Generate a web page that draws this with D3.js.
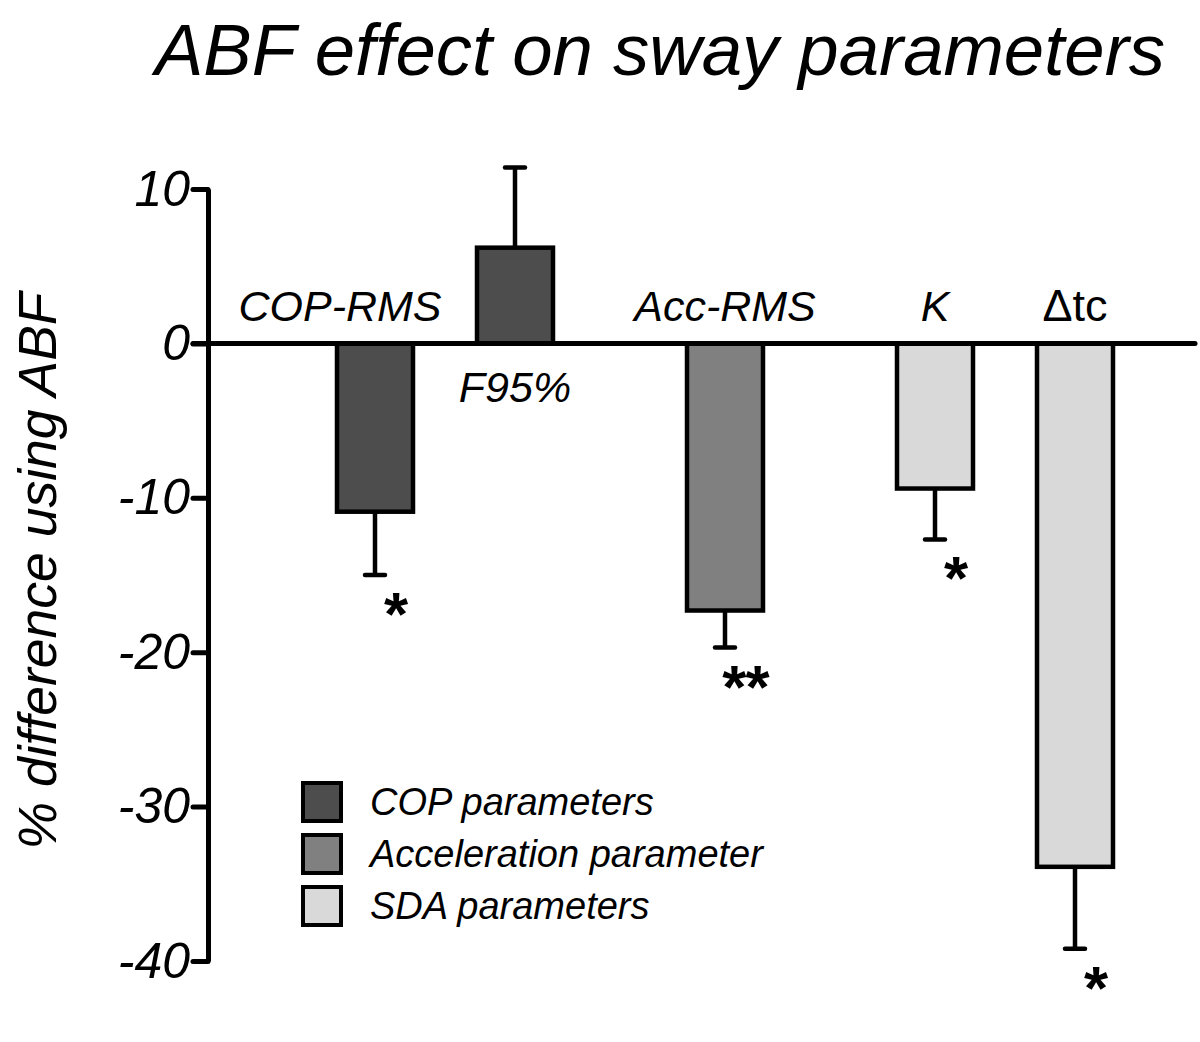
<!DOCTYPE html>
<html>
<head>
<meta charset="utf-8">
<script src="https://cdn.jsdelivr.net/npm/d3@7"></script>
<style>
  html, body { margin: 0; padding: 0; background: #fff; }
  svg { display: block; }
  text { font-family: "Liberation Sans", Arial, sans-serif; }
</style>
</head>
<body>
<svg id="chart" width="1200" height="1042"></svg>
<script>
// ---- data ----
const categories = ["COP-RMS", "F95%", "Acc-RMS", "K", "Δtc"];
const groups     = ["COP", "COP", "Acc", "SDA", "SDA"];
const values     = [-10.9, 6.2, -17.3, -9.4, -33.9];
const errors     = [4.1, 5.2, 2.4, 3.3, 5.3];
const stars      = ["*", "", "**", "*", "*"];
const yTicks     = [10, 0, -10, -20, -30, -40];
const legendGroups = ["COP", "Acc", "SDA"];
const legendLabels = ["COP parameters", "Acceleration parameter", "SDA parameters"];
const titleText  = "ABF effect on sway parameters";
const yTitle     = "% difference using ABF";

// ---- styles / layout ----
const fills = { COP: "#4d4d4d", Acc: "#808080", SDA: "#d9d9d9" };
const labelShift = { "COP-RMS": -35 };
const uprightLabels = { "Δtc": true };

const svg = d3.select("#chart");
svg.append("rect").attr("width", 1200).attr("height", 1042).attr("fill", "#fff");

const y = d3.scaleLinear().domain([-40, 10]).range([961, 189]);

// slot index: 2 per bar, plus 1 extra slot between groups
const slots = [];
let s = 0;
categories.forEach((c, i) => {
  if (i > 0) s += 2 + (groups[i] !== groups[i - 1] ? 1 : 0);
  slots.push(s);
});
const x = d3.scaleLinear().domain([0, d3.max(slots)]).range([375, 1075]);
const barW = 76;

const data = categories.map((c, i) => ({
  c, g: groups[i], v: values[i], e: errors[i], star: stars[i], cx: x(slots[i])
}));

// title
svg.append("text")
  .attr("x", 660).attr("y", 75)
  .attr("text-anchor", "middle")
  .attr("font-size", 72.5).attr("font-style", "italic")
  .text(titleText);

// y axis title
svg.append("text")
  .attr("transform", "translate(56,571) rotate(-90)")
  .attr("text-anchor", "middle")
  .attr("font-size", 53.5).attr("font-style", "italic")
  .text(yTitle);

// y axis
const axisX = 208;
const gAxis = svg.append("g")
  .attr("transform", `translate(${axisX},0)`)
  .call(d3.axisLeft(y).tickValues(yTicks).tickSize(15).tickSizeOuter(0).tickPadding(3)
        .tickFormat(d => String(d)));
gAxis.select(".domain").attr("stroke", "#000").attr("stroke-width", 5);
gAxis.selectAll(".tick line").attr("stroke", "#000").attr("stroke-width", 5).attr("stroke-linecap", "round");
gAxis.selectAll(".tick text")
  .attr("font-family", "Liberation Sans, Arial, sans-serif")
  .attr("font-size", 50).attr("font-style", "italic").attr("fill", "#000");

// bars
const gBars = svg.append("g");
gBars.selectAll("rect.bar").data(data).join("rect")
  .attr("class", "bar")
  .attr("x", d => d.cx - barW / 2)
  .attr("width", barW)
  .attr("y", d => y(Math.max(0, d.v)))
  .attr("height", d => Math.abs(y(d.v) - y(0)))
  .attr("fill", d => fills[d.g])
  .attr("stroke", "#000").attr("stroke-width", 4.5);

// error bars
const capW = 20;
const endVal = d => d.v >= 0 ? d.v + d.e : d.v - d.e;
gBars.selectAll("line.err").data(data).join("line")
  .attr("class", "err")
  .attr("x1", d => d.cx).attr("x2", d => d.cx)
  .attr("y1", d => y(d.v)).attr("y2", d => y(endVal(d)))
  .attr("stroke", "#000").attr("stroke-width", 4.5);
gBars.selectAll("line.cap").data(data).join("line")
  .attr("class", "cap")
  .attr("x1", d => d.cx - capW / 2).attr("x2", d => d.cx + capW / 2)
  .attr("y1", d => y(endVal(d))).attr("y2", d => y(endVal(d)))
  .attr("stroke", "#000").attr("stroke-width", 4.5).attr("stroke-linecap", "round");

// zero line
svg.append("line")
  .attr("x1", axisX - 15).attr("x2", 1195)
  .attr("y1", y(0)).attr("y2", y(0))
  .attr("stroke", "#000").attr("stroke-width", 5).attr("stroke-linecap", "round");

// category labels (opposite side of bar)
svg.selectAll("text.cat").data(data).join("text")
  .attr("class", "cat")
  .attr("x", d => d.cx + (labelShift[d.c] || 0))
  .attr("y", d => d.v < 0 ? y(0) - 22 : y(0) + 59)
  .attr("text-anchor", "middle")
  .attr("font-size", d => uprightLabels[d.c] ? 45 : 43)
  .attr("font-style", d => uprightLabels[d.c] ? "normal" : "italic")
  .attr("font-family", d => uprightLabels[d.c] ? "DejaVu Sans, sans-serif" : "Liberation Sans, Arial, sans-serif")
  .text(d => d.c);

// significance stars
const starFs = 62;
svg.selectAll("text.star").data(data.filter(d => d.star)).join("text")
  .attr("class", "star")
  .attr("x", d => d.cx + 18)
  .attr("y", d => y(endVal(d)) + 24 + 0.58 * starFs)
  .attr("text-anchor", "middle")
  .attr("font-size", starFs).attr("font-style", "italic").attr("font-weight", "bold")
  .attr("letter-spacing", -1)
  .text(d => d.star);

// legend
const lg = svg.append("g").attr("transform", "translate(303,783)");
const li = lg.selectAll("g").data(legendGroups).join("g")
  .attr("transform", (d, i) => `translate(0,${i * 52})`);
li.append("rect").attr("width", 38).attr("height", 38)
  .attr("fill", d => fills[d]).attr("stroke", "#000").attr("stroke-width", 4);
li.append("text").attr("x", 67).attr("y", 32)
  .attr("font-size", 38).attr("font-style", "italic")
  .text((d, i) => legendLabels[i]);
</script>
</body>
</html>
